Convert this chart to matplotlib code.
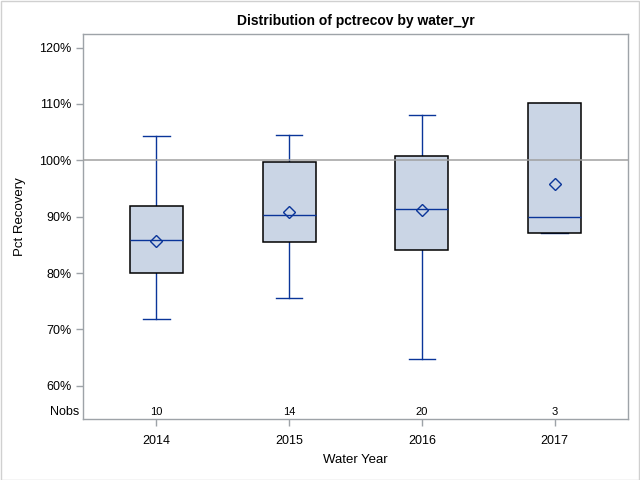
import matplotlib
matplotlib.use("Agg")
import matplotlib.pyplot as plt
from matplotlib.patches import Rectangle

plt.rcParams['font.family'] = ['Liberation Sans', 'DejaVu Sans']

# Data (percent recovery)
years = ['2014', '2015', '2016', '2017']
nobs = [10, 14, 20, 3]
whisker_low = [71.8, 75.5, 64.7, 87.05]
q1 = [80.0, 85.45, 84.0, 87.05]
median = [85.8, 90.25, 91.35, 89.9]
mean = [85.7, 90.85, 91.2, 95.75]
q3 = [91.85, 99.65, 100.7, 110.1]
whisker_high = [104.25, 104.5, 108.0, 110.1]
yticks = [60, 70, 80, 90, 100, 110, 120]

box_fill = '#CAD5E5'
blue = '#0A3599'
frame_gray = '#9EA3A8'

fig = plt.figure(figsize=(6.4, 4.8), dpi=100)
ax = fig.add_axes([0.1292, 0.1265, 0.9817 - 0.1292, 0.9285 - 0.1265])

stats = []
for i in range(len(years)):
    stats.append(dict(label=years[i], whislo=whisker_low[i], q1=q1[i], med=median[i],
                      mean=mean[i], q3=q3[i], whishi=whisker_high[i], fliers=[]))

pos = list(range(len(years)))
ax.bxp(stats, positions=pos, widths=0.4, capwidths=0.2, patch_artist=True,
       showmeans=True, showfliers=False,
       boxprops=dict(facecolor=box_fill, edgecolor='black', linewidth=1.1, zorder=2),
       whiskerprops=dict(color=blue, linewidth=1.0, zorder=1.5),
       capprops=dict(color=blue, linewidth=1.0, zorder=1.5),
       medianprops=dict(color=blue, linewidth=1.0, zorder=4),
       meanprops=dict(marker='D', markerfacecolor='none', markeredgecolor=blue,
                      markersize=6.5, markeredgewidth=1.0, zorder=5))

ax.axhline(100, color='#A0A0A0', linewidth=1.1, zorder=3)

ax.set_xlim(-0.556, 3.556)
ax.set_ylim(54.04, 122.36)
ax.set_yticks(yticks)
ax.set_yticklabels([f'{t}%' for t in yticks])
ax.set_xticks(pos)
ax.set_xticklabels(years)

for s in ax.spines.values():
    s.set_color(frame_gray)
    s.set_linewidth(1.0)
ax.tick_params(axis='both', colors=frame_gray, labelcolor='black', labelsize=9,
               length=5, width=1.0, direction='out', pad=3)
ax.tick_params(axis='x', pad=6)

# Nobs row
nobs_y = 55.4
for i, n in enumerate(nobs):
    ax.text(pos[i], nobs_y, str(n), ha='center', va='center', fontsize=8, color='black')
ax.text(-0.006, nobs_y, 'Nobs', ha='right', va='center', fontsize=9,
        transform=ax.get_yaxis_transform(), color='black')

ax.set_title('Distribution of pctrecov by water_yr', fontsize=10, fontweight='bold', pad=7)
ax.set_xlabel('Water Year', fontsize=9.5, labelpad=5)
fig.text(20 / 640, 1 - 217 / 480, 'Pct Recovery', rotation=90, ha='center', va='center',
         fontsize=9.5)

fig.patches.append(Rectangle((0.5 / 640, 0.5 / 480), 1 - 1.5 / 640, 1 - 1.5 / 480,
                             transform=fig.transFigure, fill=False,
                             edgecolor='#D0D0D0', linewidth=1.0))

fig.savefig('out.png', dpi=100)
